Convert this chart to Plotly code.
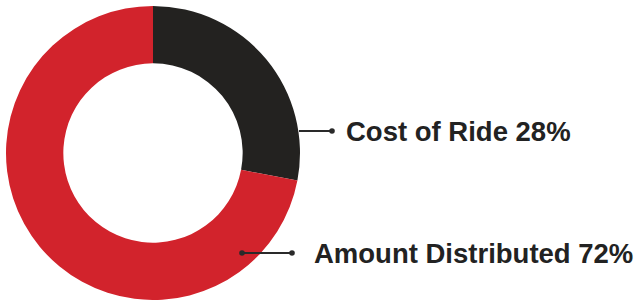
import plotly.graph_objects as go

labels = ["Cost of Ride", "Amount Distributed"]
values = [28, 72]
colors = ["#232220", "#D2232C"]

W, H = 639, 300

def px(x):
    return x / W

def py(y):
    return 1 - y / H

fig = go.Figure()
fig.add_trace(go.Pie(
    labels=labels, values=values, hole=0.61, sort=False,
    direction="clockwise", rotation=0,
    marker=dict(colors=colors, line=dict(width=0)),
    textinfo="none", hoverinfo="label+percent", showlegend=False,
    domain=dict(x=[px(6), px(300)], y=[0, py(6)]),
))

# leader lines: (start x, end x, y, dot at start)
leaders = [(299, 332, 131, False), (242, 292, 253, True)]
line_col = "#2a2a2a"
shapes = []
for x0, x1, y, dot0 in leaders:
    shapes.append(dict(type="line", xref="paper", yref="paper",
                       x0=px(x0), x1=px(x1), y0=py(y), y1=py(y),
                       line=dict(color=line_col, width=2)))
    ends = [x1] + ([x0] if dot0 else [])
    for xe in ends:
        r = 2.8
        shapes.append(dict(type="circle", xref="paper", yref="paper",
                           x0=px(xe - r), x1=px(xe + r), y0=py(y + r), y1=py(y - r),
                           fillcolor=line_col, line=dict(width=0)))

texts = [f"{l} {v}%" for l, v in zip(labels, values)]
text_pos = [(344, 131), (312, 253.5)]
annotations = []
for t, (x, y) in zip(texts, text_pos):
    annotations.append(dict(text=f"<b>{t}</b>", xref="paper", yref="paper",
                            x=px(x), y=py(y), xanchor="left", yanchor="middle",
                            showarrow=False,
                            font=dict(family="Liberation Sans, Arial, sans-serif",
                                      size=27.5, color="#222222")))

fig.update_layout(width=W, height=H, margin=dict(l=0, r=0, t=0, b=0),
                  paper_bgcolor="white", plot_bgcolor="white",
                  shapes=shapes, annotations=annotations)
fig.write_html("out.html", config={"displayModeBar": False},
               post_script="document.body.style.margin='0';document.body.style.overflow='hidden';")
